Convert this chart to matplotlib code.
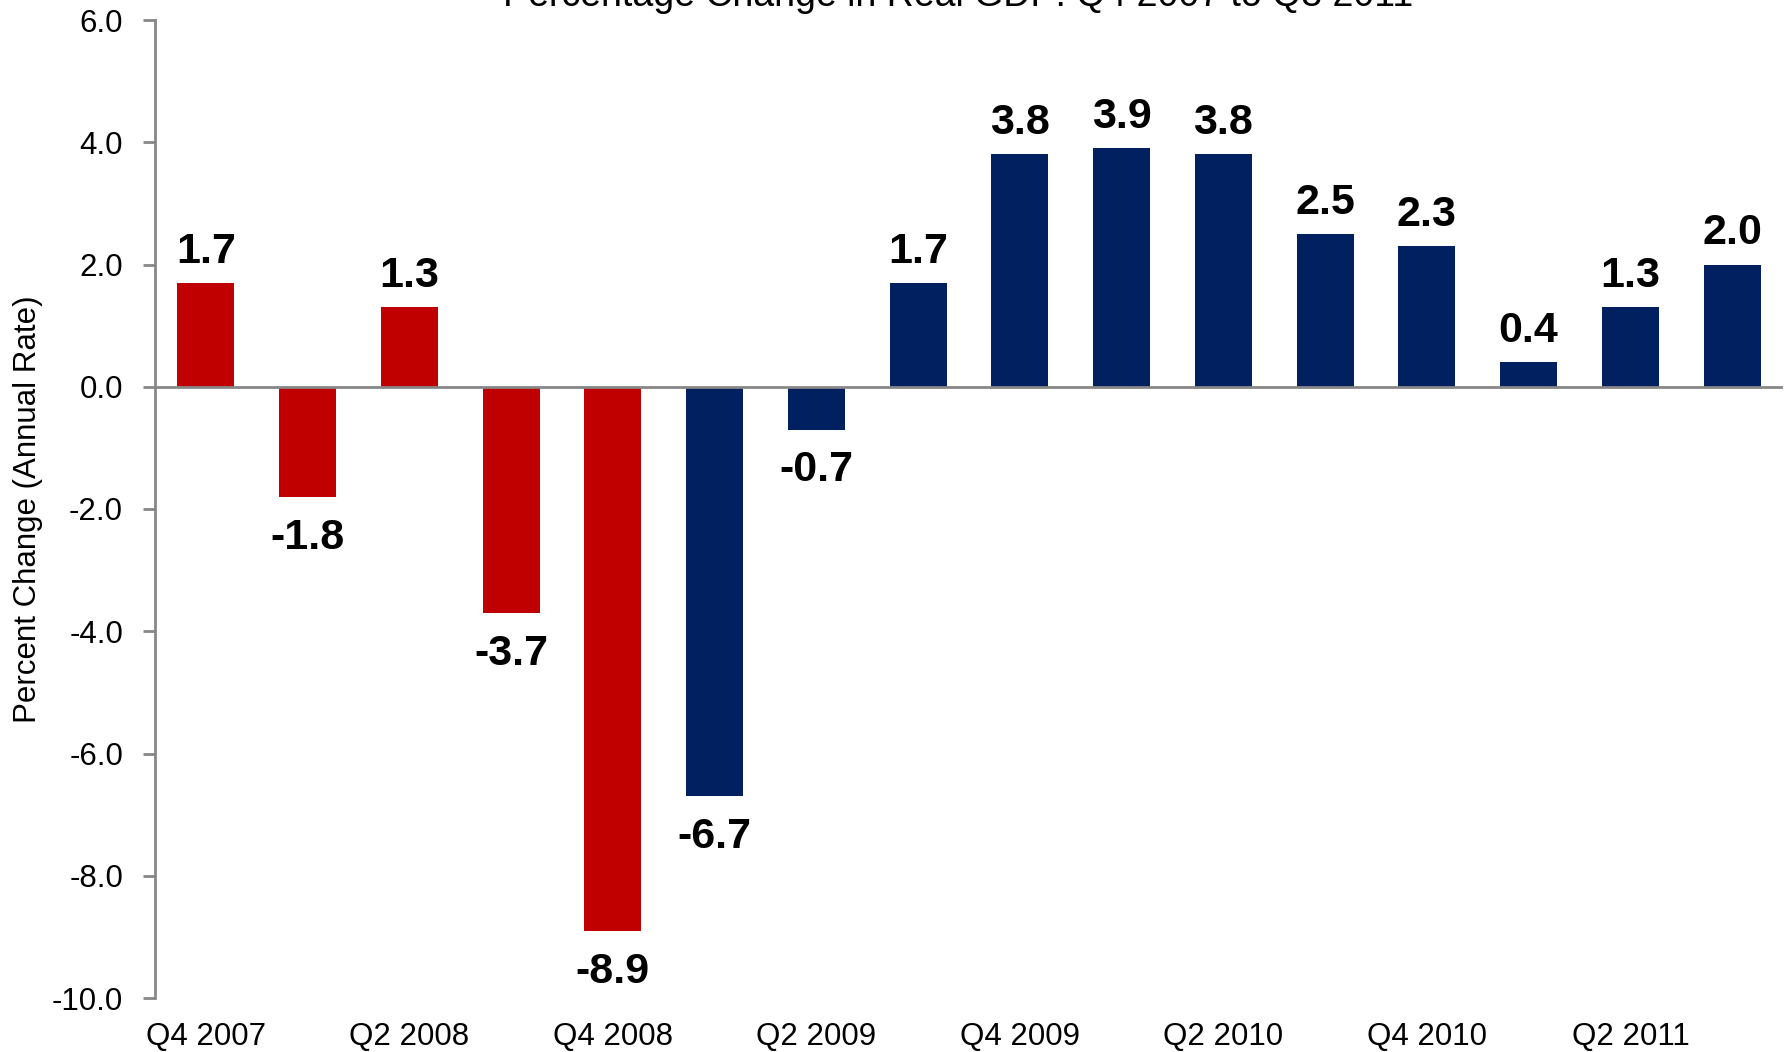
import matplotlib
matplotlib.use('Agg')
import matplotlib.pyplot as plt
import numpy as np

plt.rcParams['font.family'] = ['Liberation Sans', 'DejaVu Sans']

quarters = ["Q4 2007", "Q1 2008", "Q2 2008", "Q3 2008", "Q4 2008", "Q1 2009",
            "Q2 2009", "Q3 2009", "Q4 2009", "Q1 2010", "Q2 2010", "Q3 2010",
            "Q4 2010", "Q1 2011", "Q2 2011", "Q3 2011"]
gdp_change = [1.7, -1.8, 1.3, -3.7, -8.9, -6.7, -0.7, 1.7, 3.8, 3.9, 3.8, 2.5,
              2.3, 0.4, 1.3, 2.0]
# first five quarters red, rest navy
red_quarters = 5

red = '#C00000'
navy = '#002060'
gray = '#878787'

colors = [red if i < red_quarters else navy for i in range(len(quarters))]
x = np.arange(len(quarters))

fig = plt.figure(figsize=(17.84, 10.52), dpi=100)
ax = fig.add_axes([155/1784, 1 - 998/1052, (1783 - 155)/1784, (998 - 20)/1052])

ax.bar(x, gdp_change, width=0.56, color=colors, zorder=2)
ax.axhline(0, color=gray, linewidth=2, zorder=3)

for xi, v in zip(x, gdp_change):
    if v >= 0:
        ax.annotate(f"{v:.1f}", (xi, v), xytext=(0, 8), textcoords='offset points',
                    ha='center', va='bottom', fontsize=31, fontweight='bold')
    else:
        ax.annotate(f"{v:.1f}", (xi, v), xytext=(0, -15), textcoords='offset points',
                    ha='center', va='top', fontsize=31, fontweight='bold')

ax.set_xlim(-0.5, len(quarters) - 0.5)
ax.set_ylim(-10, 6)
ax.set_yticks(np.arange(-10, 7, 2))
ax.set_yticklabels([f"{t:.1f}" for t in np.arange(-10, 7, 2)])
ax.set_xticks(x[::2])
ax.set_xticklabels(quarters[::2])

for s in ['top', 'right', 'bottom']:
    ax.spines[s].set_visible(False)
ax.spines['left'].set_color(gray)
ax.spines['left'].set_linewidth(2)

ax.tick_params(axis='y', direction='out', length=9, width=2, color=gray,
               labelsize=22.5, pad=14)
ax.tick_params(axis='x', length=0, labelsize=22.5, pad=17)

ax.set_ylabel("Percent Change (Annual Rate)", fontsize=22.5, labelpad=6)

fig.text(958/1784, 1 - 6/1052, "Percentage Change in Real GDP: Q4 2007 to Q3 2011",
         ha='center', va='baseline', fontsize=27)

fig.savefig("out.png", dpi=100)
